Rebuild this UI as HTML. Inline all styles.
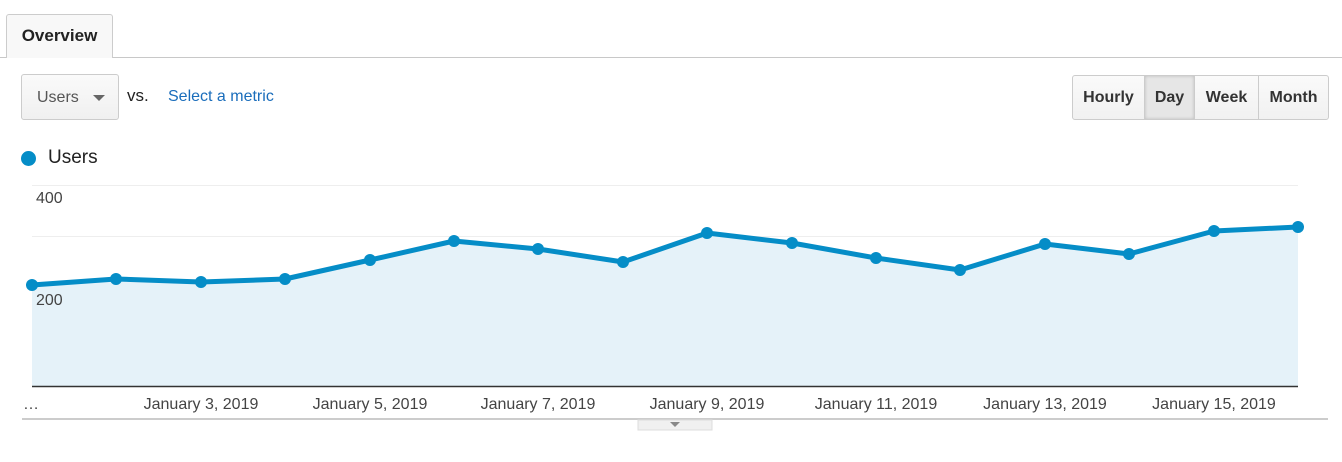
<!DOCTYPE html>
<html><head><style>
body{margin:0;width:1342px;height:462px;background:#fff;font-family:"Liberation Sans",sans-serif;position:relative;overflow:hidden}
.a{position:absolute}
.btn{position:absolute;top:75px;height:45px;border:1px solid #ccc;background:linear-gradient(#fafafa,#f1f1f1);box-sizing:border-box;font-weight:bold;font-size:16px;color:#333;text-align:center;line-height:43px}
</style></head><body>
<div class="a" style="left:0;top:57px;width:1342px;height:1px;background:#c8c8c8"></div>
<div class="a" style="left:6px;top:14px;width:107px;height:44px;border:1px solid #ccc;border-bottom:none;border-radius:3px 3px 0 0;background:#f8f8f8;box-sizing:border-box;font-weight:bold;font-size:17px;color:#222;line-height:42px;text-align:center">Overview</div>
<div class="a" style="left:21px;top:74px;width:98px;height:46px;border:1px solid #ccc;border-radius:3px;background:linear-gradient(#fafafa,#f0f0f0);box-sizing:border-box;font-size:16px;color:#555;line-height:46px;padding-left:15px">Users<span style="position:absolute;left:71px;top:20px;width:0;height:0;border-left:6px solid transparent;border-right:6px solid transparent;border-top:6px solid #666"></span></div>
<div class="a" style="left:127px;top:86px;font-size:17px;color:#222">vs.</div>
<div class="a" style="left:168px;top:88px;font-size:16px;color:#1a6dbb">Select a metric</div>
<div class="btn" style="left:1072px;width:73px;border-radius:3px 0 0 3px">Hourly</div>
<div class="btn" style="left:1144px;width:51px;background:#e6e6e6;box-shadow:inset 0 0 3px #bbb">Day</div>
<div class="btn" style="left:1194px;width:65px">Week</div>
<div class="btn" style="left:1258px;width:71px;border-radius:0 3px 3px 0">Month</div>
<div class="a" style="left:21px;top:151px;width:15px;height:15px;border-radius:50%;background:#058dc7"></div>
<div class="a" style="left:48px;top:147px;font-size:19px;color:#222">Users</div>
<svg class="a" style="left:0;top:0" width="1342" height="462">
<g stroke="#eee" stroke-width="1"><line x1="32" y1="185.5" x2="1298" y2="185.5"/><line x1="32" y1="236.5" x2="1298" y2="236.5"/><line x1="32" y1="286.5" x2="1298" y2="286.5" stroke="#dde"/><line x1="32" y1="336.5" x2="1298" y2="336.5"/></g>
<polygon fill="#e5f2f9" points="32,386 32,285 116,279 201,282 285,279 370,260 454,241 538,249 623,262 707,233 792,243 876,258 960,270 1045,244 1129,254 1214,231 1298,227 1298,386"/>
<line x1="32" y1="386.5" x2="1298" y2="386.5" stroke="#333" stroke-width="1.5"/>
<polyline fill="none" stroke="#058dc7" stroke-width="5" stroke-linejoin="round" points="32,285 116,279 201,282 285,279 370,260 454,241 538,249 623,262 707,233 792,243 876,258 960,270 1045,244 1129,254 1214,231 1298,227"/>
<g fill="#058dc7"><circle cx="32" cy="285" r="6"/><circle cx="116" cy="279" r="6"/><circle cx="201" cy="282" r="6"/><circle cx="285" cy="279" r="6"/><circle cx="370" cy="260" r="6"/><circle cx="454" cy="241" r="6"/><circle cx="538" cy="249" r="6"/><circle cx="623" cy="262" r="6"/><circle cx="707" cy="233" r="6"/><circle cx="792" cy="243" r="6"/><circle cx="876" cy="258" r="6"/><circle cx="960" cy="270" r="6"/><circle cx="1045" cy="244" r="6"/><circle cx="1129" cy="254" r="6"/><circle cx="1214" cy="231" r="6"/><circle cx="1298" cy="227" r="6"/></g>
<g font-size="16" fill="#444" font-family="Liberation Sans,sans-serif"><text x="36" y="203">400</text><text x="36" y="305">200</text></g>
<g font-size="16" fill="#444" font-family="Liberation Sans,sans-serif" text-anchor="middle"><text x="31" y="409">…</text><text x="201" y="409">January 3, 2019</text><text x="370" y="409">January 5, 2019</text><text x="538" y="409">January 7, 2019</text><text x="707" y="409">January 9, 2019</text><text x="876" y="409">January 11, 2019</text><text x="1045" y="409">January 13, 2019</text><text x="1214" y="409">January 15, 2019</text></g>
<line x1="22" y1="419" x2="1328" y2="419" stroke="#ccc" stroke-width="2"/>
<rect x="638" y="420" width="74" height="10" fill="#f0f0f0" stroke="#ddd"/>
<polygon points="670,422 680,422 675,427" fill="#888"/>
</svg>
</body></html>
